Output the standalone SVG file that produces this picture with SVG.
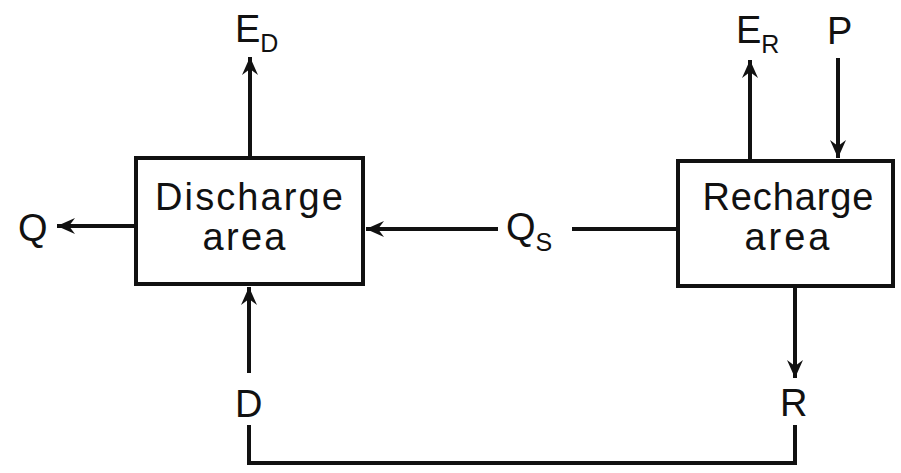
<svg xmlns="http://www.w3.org/2000/svg" width="901" height="473" viewBox="0 0 901 473">
<style>
.box{fill:#fff;stroke:#111;stroke-width:4}
.ln{fill:none;stroke:#111;stroke-width:4}
.t{font-family:"Liberation Sans","DejaVu Sans",sans-serif;fill:#111}
.bt{font-size:38px;text-anchor:middle}
.lab{font-size:38px}
.sub{font-size:25px}
</style>
<defs>
<marker id="ah" markerUnits="userSpaceOnUse" markerWidth="24" markerHeight="20" viewBox="-20 -10 24 20" refX="0" refY="0" orient="auto">
<path d="M0,0 L-18,-8 L-12,0 L-18,8 Z" fill="#111"/>
</marker>
</defs>
<g id="connectors">
<line class="ln" x1="250" y1="158" x2="250" y2="57" marker-end="url(#ah)"/>
<line class="ln" x1="135" y1="226" x2="57" y2="226" marker-end="url(#ah)"/>
<line class="ln" x1="498" y1="229" x2="366" y2="229" marker-end="url(#ah)"/>
<line class="ln" x1="572" y1="229" x2="678" y2="229"/>
<line class="ln" x1="750" y1="160" x2="750" y2="60" marker-end="url(#ah)"/>
<line class="ln" x1="838" y1="58" x2="838" y2="158" marker-end="url(#ah)"/>
<line class="ln" x1="249" y1="373" x2="249" y2="287" marker-end="url(#ah)"/>
<line class="ln" x1="795" y1="287" x2="795" y2="378" marker-end="url(#ah)"/>
<polyline class="ln" points="249,425 249,463 795,463 795,425"/>
</g>
<g id="discharge">
<rect class="box" x="136" y="158" width="227" height="126"/>
<text class="t bt" x="249" y="210" textLength="188" lengthAdjust="spacing">Discharge</text>
<text class="t bt" x="244" y="250" textLength="83" lengthAdjust="spacing">area</text>
</g>
<g id="recharge">
<rect class="box" x="678" y="161" width="215" height="125"/>
<text class="t bt" x="788" y="210" textLength="171" lengthAdjust="spacing">Recharge</text>
<text class="t bt" x="787" y="250" textLength="85" lengthAdjust="spacing">area</text>
</g>
<g id="labels">
<text class="t lab" x="235" y="42">E<tspan class="sub" dy="10">D</tspan></text>
<text class="t lab" x="18" y="241">Q</text>
<text class="t lab" x="506" y="240">Q<tspan class="sub" dy="11">S</tspan></text>
<text class="t lab" x="736" y="43">E<tspan class="sub" dy="10">R</tspan></text>
<text class="t lab" x="827" y="44">P</text>
<text class="t lab" x="235" y="417">D</text>
<text class="t lab" x="780" y="416">R</text>
</g>
</svg>
